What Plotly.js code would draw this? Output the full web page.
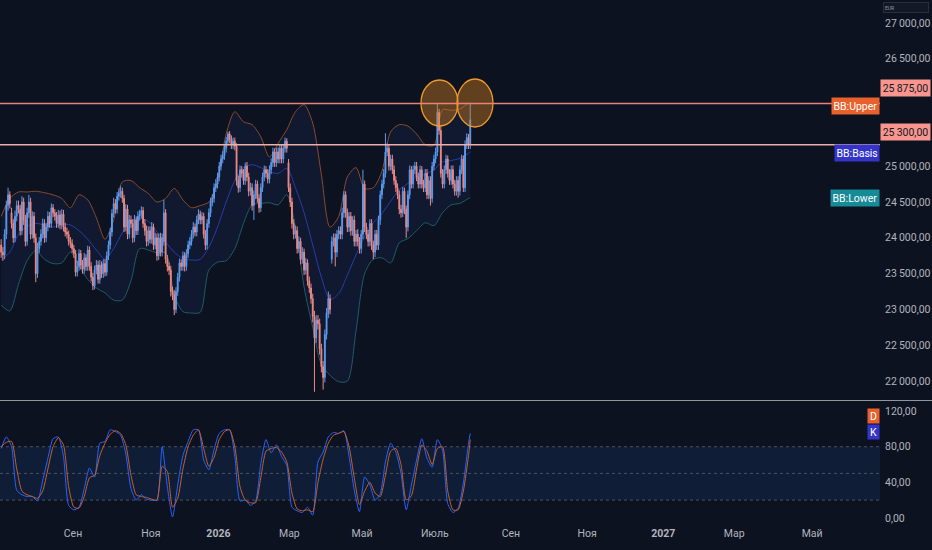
<!DOCTYPE html>
<html><head><meta charset="utf-8">
<script src="https://cdn.plot.ly/plotly-3.0.1.min.js"></script>
<style>html,body{margin:0;padding:0;background:#0d1220;}#chart{width:932px;height:550px;}</style>
</head><body><div id="chart"></div>
<script>
const START_DATE = '2025-07-03';
const HOLIDAYS = ['2025-12-24','2025-12-25','2025-12-26','2025-12-31','2026-01-01','2026-04-03','2026-04-06','2026-05-01'];

const openP = [
23900,23800,23760,24050,24450,24600,24350,24200,24000,24300,
24450,24400,24100,24500,24250,23950,24350,24500,24050,24300,
24000,23500,23850,23950,24050,24200,24000,24150,24300,24200,
24420,24350,24300,24200,24320,24180,24330,24150,24080,24050,
23950,23920,23850,23780,23520,23600,23780,23620,23560,23720,
23600,23830,23600,23450,23330,23550,23620,23420,23620,23500,
23640,23520,23750,23900,24080,24340,24480,24400,24580,24620,
24650,24550,24150,24400,24050,24250,24200,24000,24250,24100,
24300,24330,24380,24200,24100,23950,24100,23980,24150,23900,
24000,23750,24000,23800,23950,24350,23700,23600,23550,23250,
23200,23000,23250,23450,23650,23600,23750,23600,23780,23900,
23950,24050,24150,24080,24250,24330,24250,24300,24050,23900,
24200,24350,24500,24550,24700,24750,24850,25000,25100,25150,
25250,25350,25450,25380,25300,25350,25280,24800,24700,24950,
24900,24800,25000,24850,24650,24700,24450,24600,24750,24550,
24420,24700,24850,24950,24900,24820,24950,25050,25200,25050,
25200,25100,25250,25100,25250,25350,25050,24700,24500,24200,
24050,24100,23850,23950,23700,23800,23550,23650,23400,23300,
23150,22900,22600,22850,22800,22450,22200,22050,22650,22950,
23150,23700,23950,24000,23800,24050,24100,24050,24350,24600,
24350,24150,24300,24100,24250,23950,24050,23950,23850,24050,
24750,24150,24050,23950,24200,23900,23800,24050,23900,24250,
24600,24750,24900,25200,25250,25000,25100,24950,24800,24700,
24600,24400,24350,24650,24400,24150,24600,24950,24750,24950,
25000,24850,24750,24950,24750,24700,24900,24600,24800,24550,
25000,25100,25200,25750,25500,24900,24750,24950,25100,24900,
24800,24950,24750,24650,24800,24650,24950,25100,24700,25300,
25400,25300];

const highP = [
23980,23870,24120,24520,24700,24650,24420,24260,24380,24520,
24520,24460,24580,24560,24320,24420,24600,24560,24370,24360,
24060,23930,24010,24120,24270,24260,24210,24370,24360,24480,
24470,24400,24360,24390,24380,24400,24390,24210,24140,24100,
24010,23980,23900,23830,23680,23840,23830,23690,23790,23770,
23890,23880,23660,23510,23610,23690,23680,23690,23670,23700,
23700,23810,23960,24140,24400,24560,24540,24640,24690,24720,
24700,24600,24470,24460,24320,24310,24260,24320,24300,24370,
24390,24440,24430,24260,24170,24160,24160,24220,24200,24070,
24060,24060,24070,24060,24530,24400,23760,23660,23610,23320,
23270,23310,23510,23710,23700,23810,23800,23840,23960,24010,
24110,24220,24200,24310,24400,24380,24360,24350,24110,24260,
24410,24560,24610,24760,24820,24910,25060,25160,25210,25310,
25410,25480,25490,25430,25400,25400,25320,24870,25010,25000,
24960,25050,25060,24910,24770,24760,24660,24810,24800,24610,
24760,24910,25010,25000,24960,25010,25110,25260,25250,25260,
25260,25310,25300,25310,25400,25390,25100,24760,24560,24260,
24170,24160,24020,24000,23870,23850,23720,23700,23460,23360,
23220,22980,22920,22920,22870,22520,22280,22720,23020,23250,
23210,24020,24060,24060,24110,24160,24160,24420,24650,24650,
24410,24360,24360,24300,24310,24110,24120,24010,24110,24950,
24800,24210,24110,24260,24260,23960,24110,24110,24310,24660,
24810,24960,25460,25320,25310,25160,25160,25010,24860,24760,
24660,24460,24710,24700,24450,24660,25010,25000,25010,25060,
25060,24910,25010,25000,24810,24960,24960,24860,24860,25060,
25160,25260,25870,25800,25560,24960,25010,25160,25150,24960,
25010,25010,24810,24860,24860,25010,25160,25150,25360,25460,
25450,25880];

const lowP = [
23720,23680,23700,23980,24380,24410,24130,23930,23940,24230,
24340,24030,24040,24180,23880,23890,24280,23980,23990,23930,
23380,23440,23790,23890,23990,23930,23940,24090,24140,24140,
24290,24240,24140,24140,24120,24120,24090,24020,23990,23890,
23860,23790,23720,23460,23460,23540,23560,23500,23500,23540,
23540,23540,23390,23270,23280,23490,23360,23360,23440,23440,
23460,23470,23690,23840,24020,24280,24340,24340,24520,24560,
24490,24080,24090,23980,23990,24140,23930,23940,24040,24040,
24240,24270,24140,24030,23880,23890,23920,23920,23830,23840,
23680,23690,23740,23740,23890,23640,23530,23480,23180,23130,
22920,22950,23190,23390,23540,23540,23530,23540,23720,23840,
23890,23990,24020,24020,24190,24190,24190,23990,23830,23840,
24140,24290,24440,24490,24640,24690,24790,24940,25040,25090,
25190,25290,25320,25240,25240,25220,24730,24630,24640,24840,
24740,24740,24790,24580,24590,24380,24250,24540,24490,24350,
24360,24640,24790,24840,24760,24760,24890,24990,24990,24990,
25040,25040,25040,25040,25190,25190,24640,24430,24130,23980,
23990,23780,23790,23630,23640,23480,23490,23330,23230,23080,
22820,21850,22530,22720,22370,22120,21880,21980,22580,22880,
22930,23640,23880,23600,23730,23980,23980,23980,24280,24280,
24080,24080,24030,24030,23880,23880,23880,23780,23780,23980,
24080,23980,23880,23880,23830,23700,23730,23830,23830,24180,
24540,24690,24840,25140,24940,24940,24890,24740,24640,24540,
24330,24280,24290,24330,24000,24090,24540,24690,24690,24890,
24790,24690,24690,24690,24640,24640,24540,24540,24450,24490,
24940,25040,25140,25440,24840,24690,24690,24890,24840,24740,
24740,24690,24590,24590,24560,24590,24890,24640,24640,25240,
25240,25240];

const closeP = [
23800,23760,24050,24450,24600,24480,24200,24000,24300,24450,
24400,24100,24500,24250,23950,24350,24500,24050,24300,24000,
23500,23850,23950,24050,24200,24000,24150,24300,24200,24420,
24350,24300,24200,24320,24180,24330,24150,24080,24050,23950,
23920,23850,23780,23520,23600,23780,23620,23560,23720,23600,
23830,23600,23450,23330,23550,23620,23420,23620,23500,23640,
23520,23750,23900,24080,24340,24480,24400,24580,24620,24650,
24550,24150,24400,24050,24250,24200,24000,24250,24100,24300,
24330,24380,24200,24100,23950,24100,23980,24150,23900,24000,
23750,24000,23800,24000,24350,23700,23600,23550,23250,23200,
23000,23250,23450,23650,23600,23750,23600,23780,23900,23950,
24050,24150,24080,24250,24330,24250,24300,24050,23900,24200,
24350,24500,24550,24700,24750,24850,25000,25100,25150,25250,
25350,25450,25380,25300,25350,25280,24800,24700,24950,24900,
24800,25000,24850,24650,24700,24450,24600,24750,24550,24420,
24700,24850,24950,24900,24820,24950,25050,25200,25050,25200,
25100,25250,25100,25250,25350,25250,24700,24500,24200,24050,
24100,23850,23950,23700,23800,23550,23650,23400,23300,23150,
22900,22600,22850,22800,22450,22200,22050,22650,22950,23150,
23000,23950,24000,23800,24050,24100,24050,24350,24600,24350,
24150,24300,24100,24250,23950,24050,23950,23850,24050,24750,
24150,24050,23950,24200,23900,23800,24050,23900,24250,24600,
24750,24900,25200,25250,25000,25100,24950,24800,24700,24600,
24400,24350,24650,24400,24150,24600,24950,24750,24950,25000,
24850,24750,24950,24750,24700,24900,24600,24800,24550,25000,
25100,25200,25750,25500,24900,24750,24950,25100,24900,24800,
24950,24750,24650,24800,24650,24950,25100,24700,25300,25400,
25300,25650];

// Bollinger bands, read every 5th bar (plus the last bar)
const bbUpper = [
24300,24550,24640,24640,24650,24630,24600,24550,24420,24600,
24530,24280,23980,24250,24780,24800,24700,24620,24500,24550,
24690,24530,24420,24450,24500,24800,25450,25760,25620,25580,
25410,25130,25320,25510,25760,25860,25600,24880,24150,24300,
24850,24980,24690,24700,24930,25480,25580,25560,25450,25300,
25290,25790,25780,25800,25880,25880];
const bbBasis = [
23690,23800,24050,24160,24200,24180,24150,24190,24180,24100,
23980,23830,23700,23850,24070,24240,24270,24230,24080,23940,
23800,23710,23690,23700,23870,24150,24500,24800,24980,25020,
24980,24920,24900,24970,24700,24350,23900,23450,23140,23220,
23480,23760,24020,24210,24340,24510,24670,24760,24850,24890,
24950,25060,25080,25110,25180,25200];
const bbLower = [
23060,22980,23350,23680,23820,23700,23640,23650,23800,23600,
23420,23300,23230,23130,23130,23400,23850,23830,23790,23790,
23200,22970,22950,22960,23550,23660,23680,23850,24200,24460,
24480,24490,24460,24600,24150,23310,22750,22230,22080,21990,
22000,22700,23500,23700,23720,23650,23930,23990,24100,24210,
24170,24350,24460,24480,24550,24560];

// Stochastic, read every 3rd bar (plus the last bar)
const stochK = [
78,91,80,31,26,24,24,19,42,67,
89,91,69,14,9,12,33,56,46,84,
86,99,97,93,72,33,20,26,21,20,
20,80,35,1,37,70,86,99,99,65,
54,77,95,99,99,69,19,20,14,19,
61,88,73,82,69,59,12,8,6,12,
3,63,74,91,96,95,98,69,31,7,
46,37,20,27,63,84,74,50,9,37,
65,89,67,57,88,76,16,6,11,39,
84,95];
const stochD = [
80,85,86,55,30,26,24,22,30,55,
80,90,82,35,12,11,24,45,48,70,
84,94,98,95,82,48,26,24,23,21,
20,58,52,12,22,55,80,93,99,78,
58,68,88,97,99,80,35,20,17,17,
45,75,78,79,74,63,28,10,8,9,
7,40,66,84,93,95,97,80,45,15,
30,40,28,24,48,75,78,60,20,25,
55,82,75,60,78,80,30,9,9,30,
70,88];

const levels = [25875, 25300];
const levelColors = ['#e8837c', '#eab0a9'];
const levelLabelShift = [7, 4];
const priceTicks = [22000,22500,23000,23500,24000,24500,25000,26500,27000];
const stochTicks = [0,40,80,120];
const monthTickDates = ['2025-09-01','2025-11-03','2026-01-02','2026-03-02','2026-05-04','2026-07-01','2026-09-01','2026-11-02','2027-01-01','2027-03-01','2027-05-03'];
const monthTickText = ['Сен','Ноя','<b>2026</b>','Мар','Май','Июль','Сен','Ноя','<b>2027</b>','Мар','Май'];

function tradingDays(start, n) {
  const d = new Date(start + 'T00:00:00Z');
  const out = [];
  while (out.length < n) {
    const dow = d.getUTCDay();
    const s = d.toISOString().slice(0, 10);
    if (dow !== 0 && dow !== 6 && HOLIDAYS.indexOf(s) < 0) out.push(s + ' 12:00');
    d.setUTCDate(d.getUTCDate() + 1);
  }
  return out;
}
function fmt(v) {
  const s = v.toFixed(2).split('.');
  return s[0].replace(/\B(?=(\d{3})+(?!\d))/g, '\u2009') + ',' + s[1];
}

const dates = tradingDays(START_DATE, closeP.length);
const last = closeP.length - 1;
const bandIdx = []; for (let i = 0; i < last; i += 5) bandIdx.push(i); bandIdx.push(last);
const stochIdx = []; for (let i = 0; i < last; i += 3) stochIdx.push(i); stochIdx.push(last);
const bandX = bandIdx.map(i => dates[i]);
const stochX = stochIdx.map(i => dates[i]);

const PRICE_RANGE = [21735, 27321];
const STOCH_RANGE = [-8, 131.4];
const FONT = 'Roboto, sans-serif';
const AX_FONT = {family: FONT, size: 10.5, color: '#b2b5be'};

const traces = [
  {type:'scatter', mode:'lines', x:bandX, y:bbUpper, xaxis:'x', yaxis:'y',
   line:{color:'#8a4a2c', width:1, shape:'spline', smoothing:0.8}, hoverinfo:'skip'},
  {type:'scatter', mode:'lines', x:bandX, y:bbLower, xaxis:'x', yaxis:'y',
   fill:'tonexty', fillcolor:'rgba(40,80,160,0.12)',
   line:{color:'#1d5d69', width:1, shape:'spline', smoothing:0.8}, hoverinfo:'skip'},
  {type:'scatter', mode:'lines', x:bandX, y:bbBasis, xaxis:'x', yaxis:'y',
   line:{color:'#2a3bb0', width:1, shape:'spline', smoothing:0.8}, hoverinfo:'skip'},
  {type:'candlestick', x:dates, open:openP, high:highP, low:lowP, close:closeP, xaxis:'x', yaxis:'y3',
   increasing:{line:{color:'#5d9cf0', width:1}, fillcolor:'#5d9cf0'},
   decreasing:{line:{color:'#ee8a84', width:1}, fillcolor:'#ee8a84'},
   whiskerwidth:0, hoverinfo:'skip'},
  {type:'scatter', mode:'lines', x:stochX, y:stochK, xaxis:'x', yaxis:'y2',
   line:{color:'#2962ff', width:1, shape:'spline', smoothing:0.6}, hoverinfo:'skip'},
  {type:'scatter', mode:'lines', x:stochX, y:stochD, xaxis:'x', yaxis:'y2',
   line:{color:'#c4602c', width:1, shape:'spline', smoothing:0.6}, hoverinfo:'skip'}
];

const shapes = [
  {type:'rect', xref:'paper', x0:0, x1:1, yref:'y2', y0:20, y1:80, fillcolor:'#0f1e36', line:{width:0}, layer:'below'},
  {type:'line', xref:'paper', x0:0, x1:1, yref:'y2', y0:80, y1:80, line:{color:'#4b515d', width:1, dash:'dot'}, layer:'below'},
  {type:'line', xref:'paper', x0:0, x1:1, yref:'y2', y0:50, y1:50, line:{color:'#4b515d', width:1, dash:'dot'}, layer:'below'},
  {type:'line', xref:'paper', x0:0, x1:1, yref:'y2', y0:20, y1:20, line:{color:'#4b515d', width:1, dash:'dot'}, layer:'below'},
  {type:'line', xref:'paper', x0:0, x1:1.06, yref:'paper', y0:0.2371, y1:0.2371, line:{color:'#9598a1', width:1}},
  {type:'circle', xref:'paper', yref:'paper', x0:0.4784, x1:0.5205, y0:0.760, y1:0.8476,
   fillcolor:'rgba(214,128,30,0.42)', line:{color:'#ee9a2c', width:1.3}},
  {type:'circle', xref:'paper', yref:'paper', x0:0.5193, x1:0.5602, y0:0.7581, y1:0.8495,
   fillcolor:'rgba(214,128,30,0.42)', line:{color:'#ee9a2c', width:1.3}}
];
levels.forEach((l, k) => shapes.push({type:'line', xref:'paper', x0:0, x1:1, yref:'y', y0:l, y1:l,
  line:{color:levelColors[k], width:1.5}}));

const annotations = [];
levels.forEach((l, k) => annotations.push({xref:'paper', x:1, xanchor:'left', xshift:0, yref:'y', y:l,
  yanchor:'bottom', yshift:levelLabelShift[k], text:fmt(l), showarrow:false, bgcolor:'#f7958e',
  font:{family:FONT, size:10.5, color:'#131722'}, width:46, height:13, borderpad:1.5, align:'center'}));
const bbLabels = [
  {text:'BB:Upper', y:bbUpper[bbUpper.length-1], bg:'#e8612c', shift:-3},
  {text:'BB:Basis', y:bbBasis[bbBasis.length-1], bg:'#3434c8', shift:-1},
  {text:'BB:Lower', y:bbLower[bbLower.length-1], bg:'#178a98', shift:0}
];
bbLabels.forEach(b => annotations.push({xref:'paper', x:1, xanchor:'right', yref:'y', y:b.y, yanchor:'middle',
  yshift:b.shift, text:b.text, showarrow:false, bgcolor:b.bg, font:{family:FONT, size:10.5, color:'#ffffff'},
  height:13, borderpad:1.5, align:'center'}));
annotations.push({xref:'paper', x:1, xanchor:'right', yref:'y2', y:114, yanchor:'middle', text:'D', showarrow:false,
  bgcolor:'#e8612c', font:{family:FONT, size:10.5, color:'#ffffff'}, width:9, height:12, borderpad:1});
annotations.push({xref:'paper', x:1, xanchor:'right', yref:'y2', y:96, yanchor:'middle', text:'K', showarrow:false,
  bgcolor:'#3434c8', font:{family:FONT, size:10.5, color:'#ffffff'}, width:9, height:12, borderpad:1});
annotations.push({xref:'paper', x:1, xanchor:'left', xshift:3, yref:'paper', y:1, yanchor:'top', yshift:-2,
  text:'EUR', showarrow:false, bgcolor:'#121826', bordercolor:'#2a2e39', borderwidth:1,
  font:{family:FONT, size:5, color:'#9598a1'}, width:42, height:7, align:'left'});

const layout = {
  width:932, height:550,
  margin:{l:0, r:52, t:0, b:25, pad:0},
  paper_bgcolor:'#0d1220', plot_bgcolor:'#0d1220',
  showlegend:false, hovermode:false,
  xaxis:{type:'date', range:['2025-07-02 20:00','2027-06-25 05:00'],
    rangebreaks:[{bounds:['sat','mon']},{values:HOLIDAYS}],
    tickvals:monthTickDates, ticktext:monthTickText, tickfont:AX_FONT,
    showgrid:false, zeroline:false, showline:false, ticks:'', anchor:'y2',
    rangeslider:{visible:false}, fixedrange:true},
  yaxis:{domain:[0.2381,1], range:PRICE_RANGE, side:'right', anchor:'x',
    tickvals:priceTicks, ticktext:priceTicks.map(fmt), tickfont:AX_FONT,
    showgrid:false, zeroline:false, showline:false, ticks:'', ticklabelstandoff:4, fixedrange:true},
  yaxis3:{range:PRICE_RANGE, overlaying:'y', side:'right', visible:false, fixedrange:true},
  yaxis2:{domain:[0,0.2362], range:STOCH_RANGE, side:'right', anchor:'x',
    tickvals:stochTicks, ticktext:stochTicks.map(fmt), tickfont:AX_FONT,
    showgrid:false, zeroline:false, showline:false, ticks:'', ticklabelstandoff:4, fixedrange:true},
  shapes:shapes, annotations:annotations
};

Plotly.newPlot('chart', traces, layout, {displayModeBar:false, staticPlot:true});
</script>
</body></html>
